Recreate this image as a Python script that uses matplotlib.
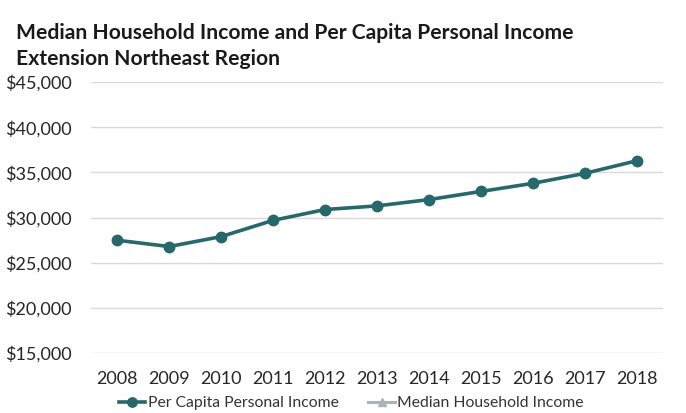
import matplotlib
matplotlib.use("Agg")
import matplotlib.pyplot as plt
from matplotlib.ticker import FuncFormatter, MultipleLocator

plt.rcParams['font.family'] = ['Lato', 'DejaVu Sans']

# Data
years = ['2008', '2009', '2010', '2011', '2012', '2013', '2014', '2015', '2016', '2017', '2018']
per_capita_income = [27500, 26800, 27900, 29700, 30900, 31300, 32000, 32900, 33800, 34900, 36300]
median_household_income = []  # series listed in legend, no points visible

teal = '#27686b'
grey = '#a9b3bb'

fig = plt.figure(figsize=(6.86, 4.13), dpi=100)
ax = fig.add_axes([0.133, 0.145, 0.833, 0.656])

x = list(range(len(years)))
ax.plot(x, per_capita_income, color=teal, linewidth=2.6, marker='o', markersize=7.5,
        label='Per Capita Personal Income', zorder=3)
ax.plot(x[:len(median_household_income)], median_household_income, color=grey, linewidth=2.2,
        marker='^', markersize=6, label='Median Household Income')

ax.set_xlim(-0.5, len(years) - 0.5)
ax.set_ylim(15000, 45000)
ax.yaxis.set_major_locator(MultipleLocator(5000))
ax.yaxis.set_major_formatter(FuncFormatter(lambda v, p: f'${v:,.0f}'))
ax.set_xticks(x)
ax.set_xticklabels(years)
ax.grid(axis='y', color='#d9d9d9', linewidth=1)
ax.set_axisbelow(True)
for s in ax.spines.values():
    s.set_visible(False)
ax.tick_params(length=0, labelsize=13, colors='#262626')
ax.tick_params(axis='x', pad=13)
ax.tick_params(axis='y', pad=14)

fig.text(0.023, 0.92, 'Median Household Income and Per Capita Personal Income',
         fontsize=15.2, fontweight='bold', color='#1a1a1a', va='center')
fig.text(0.023, 0.857, 'Extension Northeast Region',
         fontsize=15.2, fontweight='bold', color='#1a1a1a', va='center')

leg = ax.legend(loc='center', bbox_to_anchor=(0.455, -0.185), ncol=2, frameon=False,
                fontsize=11.3, handlelength=1.7, columnspacing=1.9, handletextpad=0.15,
                labelcolor='#333333', markerscale=0.9)

fig.savefig('out.png', dpi=100)
